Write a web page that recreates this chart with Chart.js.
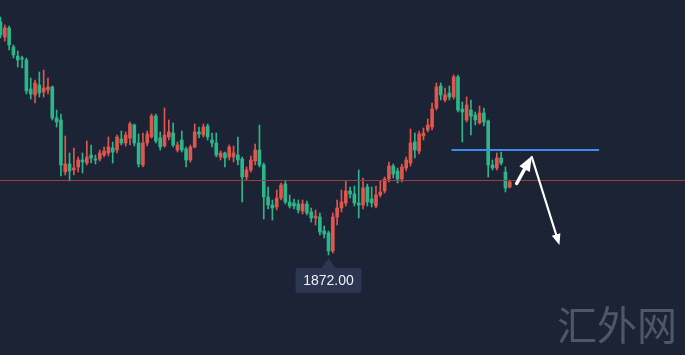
<!DOCTYPE html>
<html>
<head>
<meta charset="utf-8">
<script src="https://cdn.jsdelivr.net/npm/chart.js@4.4.0/dist/chart.umd.min.js"></script>
<style>
  html, body { margin: 0; padding: 0; background: #1c2334; overflow: hidden; }
  #wrap { width: 685px; height: 355px; position: relative; }
</style>
</head>
<body>
<div id="wrap"><canvas id="myChart"></canvas></div>
<script>
// candle data (one entry per bar, oldest first)
const opens = [
  1918.6, 1915.6, 1917.4, 1913.6, 1911.8, 1911.4, 1911.0, 1905.2, 1904.0, 1906.0,
  1904.6, 1905.0, 1905.6, 1899.4, 1899.0, 1888.6, 1890.2, 1889.0, 1889.6, 1891.0,
  1890.4, 1892.0, 1891.2, 1891.2, 1892.0, 1892.4, 1893.4, 1893.0, 1895.2, 1894.4,
  1895.4, 1898.0, 1894.4, 1890.0, 1894.4, 1895.6, 1899.8, 1895.4, 1893.8, 1895.6,
  1896.4, 1893.0, 1895.0, 1893.2, 1891.0, 1893.6, 1896.6, 1896.0, 1897.8, 1895.0,
  1894.4, 1891.6, 1892.4, 1891.6, 1891.6, 1892.0, 1891.2, 1887.6, 1889.0, 1890.8,
  1893.0, 1890.0, 1883.6, 1882.0, 1881.6, 1883.4, 1886.2, 1882.6, 1882.4, 1882.2,
  1880.8, 1882.2, 1880.6, 1879.4, 1879.6, 1876.8, 1876.4, 1872.8, 1879.6, 1881.4,
  1882.4, 1884.8, 1884.2, 1882.4, 1882.0, 1885.6, 1883.2, 1881.8, 1884.0, 1884.8,
  1887.2, 1889.8, 1888.8, 1887.2, 1889.4, 1890.4, 1894.6, 1892.8, 1895.8, 1897.0,
  1897.6, 1901.4, 1905.8, 1903.0, 1904.4, 1903.6, 1907.6, 1901.2, 1899.0, 1901.0,
  1900.0, 1898.4, 1900.4, 1898.8, 1890.0, 1889.4, 1891.4, 1888.6, 1885.6
];
const highs = [
  1919.6, 1918.0, 1917.8, 1914.0, 1912.8, 1911.8, 1911.4, 1907.4, 1907.0, 1908.6,
  1909.0, 1907.4, 1905.8, 1901.0, 1900.2, 1895.8, 1892.4, 1893.4, 1891.6, 1892.4,
  1894.8, 1894.0, 1892.0, 1893.0, 1893.6, 1895.6, 1894.6, 1896.0, 1896.8, 1896.6,
  1898.6, 1898.2, 1896.2, 1896.4, 1896.8, 1900.2, 1900.2, 1896.6, 1901.4, 1899.0,
  1898.4, 1894.6, 1896.8, 1893.6, 1894.0, 1898.2, 1897.6, 1898.2, 1898.2, 1896.4,
  1896.4, 1892.8, 1892.6, 1894.0, 1893.8, 1895.6, 1891.6, 1889.6, 1891.8, 1894.2,
  1898.0, 1890.4, 1885.6, 1883.0, 1885.0, 1886.4, 1886.8, 1884.0, 1883.2, 1883.0,
  1883.0, 1882.8, 1881.4, 1881.0, 1880.4, 1877.8, 1876.8, 1880.4, 1883.0, 1885.0,
  1886.8, 1885.6, 1885.8, 1889.0, 1887.4, 1886.2, 1885.6, 1885.8, 1886.8, 1887.6,
  1890.6, 1890.2, 1889.4, 1890.2, 1891.6, 1897.2, 1896.4, 1896.8, 1897.4, 1899.2,
  1902.4, 1906.4, 1906.4, 1905.4, 1905.8, 1908.0, 1908.0, 1902.6, 1903.6, 1903.0,
  1900.6, 1901.8, 1901.4, 1899.0, 1891.0, 1892.4, 1892.6, 1889.6, 1887.0
];
const lows = [
  1915.4, 1914.8, 1913.0, 1911.4, 1909.6, 1909.4, 1904.2, 1903.2, 1902.4, 1903.6,
  1903.6, 1904.2, 1899.0, 1897.6, 1887.8, 1888.0, 1886.8, 1888.0, 1888.6, 1888.4,
  1890.0, 1890.4, 1890.2, 1890.8, 1891.6, 1891.8, 1890.4, 1892.4, 1894.0, 1893.8,
  1894.0, 1893.8, 1889.6, 1889.6, 1893.8, 1895.4, 1894.4, 1893.0, 1893.6, 1895.0,
  1893.6, 1892.6, 1892.6, 1889.6, 1890.6, 1893.4, 1895.4, 1895.6, 1895.0, 1893.6,
  1891.6, 1891.0, 1889.6, 1891.0, 1890.6, 1890.0, 1882.6, 1887.0, 1888.6, 1890.0,
  1889.6, 1879.2, 1881.2, 1879.0, 1881.0, 1883.0, 1882.2, 1881.4, 1881.2, 1880.4,
  1880.2, 1880.0, 1878.6, 1878.0, 1876.0, 1875.4, 1872.0, 1872.4, 1878.0, 1880.6,
  1881.8, 1883.4, 1881.8, 1879.4, 1881.2, 1881.8, 1881.6, 1881.4, 1883.6, 1884.4,
  1886.6, 1887.4, 1886.4, 1886.6, 1888.8, 1889.8, 1891.4, 1892.2, 1895.0, 1896.6,
  1897.0, 1901.0, 1903.0, 1902.6, 1903.0, 1903.2, 1900.6, 1894.6, 1898.6, 1896.0,
  1898.0, 1898.2, 1897.8, 1887.6, 1889.0, 1889.0, 1890.0, 1884.6, 1885.4
];
const closes = [
  1916.0, 1917.4, 1914.0, 1912.0, 1911.0, 1911.2, 1904.8, 1904.2, 1906.4, 1904.4,
  1905.4, 1905.6, 1899.4, 1898.6, 1890.0, 1890.2, 1888.8, 1889.4, 1891.0, 1890.6,
  1891.6, 1891.4, 1891.0, 1892.4, 1892.8, 1893.6, 1892.6, 1895.6, 1894.4, 1896.0,
  1898.2, 1894.4, 1890.2, 1894.4, 1896.2, 1899.8, 1894.8, 1893.6, 1896.0, 1896.6,
  1894.0, 1894.0, 1893.0, 1891.0, 1893.6, 1896.6, 1896.2, 1897.6, 1895.6, 1894.4,
  1892.0, 1892.4, 1891.4, 1893.6, 1892.4, 1891.0, 1887.6, 1889.0, 1891.0, 1893.0,
  1890.0, 1883.6, 1882.0, 1881.4, 1883.4, 1886.0, 1882.6, 1881.8, 1881.8, 1881.0,
  1882.2, 1880.4, 1879.4, 1879.8, 1876.6, 1876.2, 1872.8, 1879.6, 1881.4, 1882.6,
  1884.8, 1884.2, 1882.4, 1882.0, 1885.4, 1882.6, 1882.4, 1884.0, 1884.6, 1887.2,
  1889.8, 1888.2, 1887.2, 1889.6, 1891.0, 1894.4, 1893.0, 1896.2, 1896.4, 1898.0,
  1901.2, 1905.6, 1904.0, 1904.0, 1903.6, 1907.6, 1901.0, 1900.6, 1902.0, 1899.8,
  1899.0, 1900.4, 1898.6, 1890.0, 1889.4, 1891.4, 1890.4, 1885.4, 1886.6
];

// drawn levels and arrows (x = bar index, y = price)
const supportLevel = 1886.9;
const resistLevel = 1893.1;
const resistFrom = 104.5, resistTo = 138.7;
const arrowUp = [[119.6, 1886.3], [123.1, 1891.8]];
const arrowDown = [[123.1, 1891.6], [129.5, 1874.0]];
const watermark = '汇外网';

const UP = '#e0564d';
const DOWN = '#2db68a';

const candleColors = opens.map((o, i) => closes[i] >= o ? UP : DOWN);
const wickData = opens.map((o, i) => ({ x: i, y: [lows[i], highs[i]] }));
const bodyData = opens.map((o, i) => ({ x: i, y: [o, closes[i]] }));

const X_MIN = -0.116, X_MAX = 158.6;

function drawArrow(ctx, x1, y1, x2, y2, shaft, headLen, headW) {
  const ang = Math.atan2(y2 - y1, x2 - x1);
  const bx = x2 - Math.cos(ang) * headLen;
  const by = y2 - Math.sin(ang) * headLen;
  ctx.strokeStyle = '#ffffff';
  ctx.fillStyle = '#ffffff';
  ctx.lineWidth = shaft;
  ctx.lineCap = 'round';
  ctx.beginPath();
  ctx.moveTo(x1, y1);
  ctx.lineTo(bx, by);
  ctx.stroke();
  const nx = -Math.sin(ang) * headW / 2, ny = Math.cos(ang) * headW / 2;
  ctx.beginPath();
  ctx.moveTo(x2, y2);
  ctx.lineTo(bx + nx, by + ny);
  ctx.lineTo(bx - nx, by - ny);
  ctx.closePath();
  ctx.fill();
}

const overlay = {
  id: 'overlay',
  afterDatasetsDraw(chart) {
    const { ctx, scales: { x, y } } = chart;
    ctx.save();
    // resistance segment
    const ry = Math.round(y.getPixelForValue(resistLevel)) - 1;
    const rx1 = x.getPixelForValue(resistFrom);
    const rx2 = x.getPixelForValue(resistTo);
    ctx.fillStyle = '#3a8cf0';
    ctx.fillRect(rx1, ry, rx2 - rx1, 2);

    // arrows
    drawArrow(ctx, x.getPixelForValue(arrowUp[0][0]), y.getPixelForValue(arrowUp[0][1]),
      x.getPixelForValue(arrowUp[1][0]), y.getPixelForValue(arrowUp[1][1]), 3.5, 15, 12);
    drawArrow(ctx, x.getPixelForValue(arrowDown[0][0]), y.getPixelForValue(arrowDown[0][1]),
      x.getPixelForValue(arrowDown[1][0]), y.getPixelForValue(arrowDown[1][1]), 2.2, 11, 9);

    // lowest low tag
    let mi = 0;
    lows.forEach((v, i) => { if (v < lows[mi]) mi = i; });
    const px = x.getPixelForValue(mi);
    const py = y.getPixelForValue(lows[mi]);
    ctx.fillStyle = '#2c3650';
    ctx.beginPath();
    ctx.moveTo(px, py + 3);
    ctx.lineTo(px + 7, py + 13);
    ctx.lineTo(px - 7, py + 13);
    ctx.closePath();
    ctx.fill();
    ctx.beginPath();
    ctx.roundRect(px - 33, py + 13, 66, 25, 3);
    ctx.fill();
    ctx.fillStyle = '#eef0f4';
    ctx.font = '14px "Liberation Sans", Arial, sans-serif';
    ctx.textAlign = 'center';
    ctx.textBaseline = 'middle';
    ctx.fillText(lows[mi].toFixed(2), px, py + 26.5);

    // watermark
    ctx.fillStyle = '#4f5668';
    ctx.font = '400 40px "Noto Sans CJK SC", sans-serif';
    ctx.textAlign = 'center';
    ctx.fillText(watermark, 617, 325);
    ctx.restore();
  }
};

const config = {
  data: {
    datasets: [{
      type: 'line',
      data: [{ x: X_MIN, y: supportLevel }, { x: X_MAX, y: supportLevel }],
      borderColor: '#9a3f44',
      borderWidth: 1,
      pointRadius: 0
    }, {
      type: 'bar',
      data: wickData,
      backgroundColor: candleColors,
      barThickness: 1,
      grouped: false,
      borderWidth: 0
    }, {
      type: 'bar',
      data: bodyData,
      backgroundColor: candleColors,
      barThickness: 3,
      grouped: false,
      borderWidth: 0,
      minBarLength: 1
    }]
  },
  options: {
    responsive: true,
    maintainAspectRatio: false,
    animation: false,
    layout: { padding: 0 },
    plugins: { legend: { display: false }, tooltip: { enabled: false } },
    scales: {
      x: { type: 'linear', min: X_MIN, max: X_MAX, display: false, offset: false },
      y: { min: 1852, max: 1923, display: false }
    }
  },
  plugins: [overlay]
};

const myChart = new Chart(document.getElementById('myChart'), config);
</script>
</body>
</html>
